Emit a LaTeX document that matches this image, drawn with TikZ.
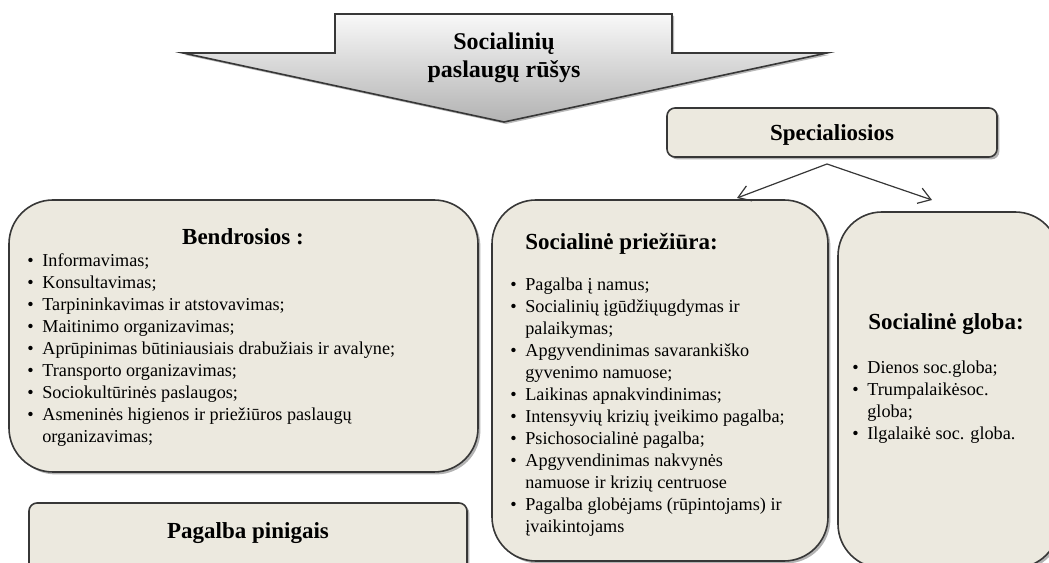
\documentclass[tikz,border=0pt]{standalone}
\usepackage{fontspec}
\setmainfont{Liberation Serif}
\usetikzlibrary{arrows.meta,shadows}
\definecolor{boxfill}{RGB}{236,233,223}
\definecolor{boxline}{RGB}{55,55,55}
\tikzset{
  bigbox/.style={draw=boxline, line width=0.8pt, fill=boxfill, rounded corners=22pt,
    drop shadow={shadow xshift=1.2pt, shadow yshift=-1.2pt, opacity=0.6}, inner sep=0pt},
  smallbox/.style={bigbox, rounded corners=4pt},
  heading/.style={font=\bfseries\fontsize{11.5}{14}\selectfont, inner sep=0pt},
  itemlist/.style={font=\fontsize{9.1}{11}\selectfont, inner sep=0pt, anchor=base west},
  splitarrow/.style={draw=boxline, line width=0.6pt, -{Straight Barb[length=6pt,width=8pt]}}
}
\newenvironment{bullets}{\begin{tabular}[t]{@{}l@{\hspace{4.3pt}}l@{}}}{\end{tabular}}
\begin{document}
\begin{tikzpicture}[x=0.5pt, y=0.5pt]
  \useasboundingbox (0,0) rectangle (1049,562);
  % big arrow at the top
  \draw[boxline, line width=0.8pt, top color=gray!5, bottom color=gray!60,
    drop shadow={shadow xshift=1pt, shadow yshift=-1pt, opacity=0.55}]
    (335,548) -- (672,548) -- (672,509) -- (827,509) -- (504,440)
    -- (183,509) -- (335,509) -- cycle;
  \node[heading, font=\bfseries\fontsize{12}{14}\selectfont, align=center] (rusys) at (504,504) {Socialinių\\paslaugų rūšys};

  % boxes
  \node[smallbox, minimum width=165pt, minimum height=24.5pt] (spec) at (832,429.5) {};
  \node[heading] (spectitle) at (832,427) {Specialiosios};
  \node[bigbox, minimum width=234.5pt, minimum height=136pt] (bendr) at (243.5,226) {};
  \node[bigbox, minimum width=168pt, minimum height=180.5pt] (priez) at (660,181.5) {};
  \node[bigbox, minimum width=110.5pt, minimum height=178pt] (globa) at (948.5,172) {};
  \node[smallbox, minimum width=219pt, minimum height=35pt] (pinig) at (248,24) {};
  \node[heading] (pinigtitle) at (248,29) {Pagalba pinigais};

  % arrows from Specialiosios
  \coordinate (split) at (827,398);
  \coordinate (topriez) at (737,364);
  \coordinate (toglob) at (932,362);
  \draw[splitarrow] (split) -- (topriez);
  \draw[splitarrow] (split) -- (toglob);

  % Bendrosios
  \node[heading] (bendrtitle) at (243,325) {Bendrosios :};
  \node[itemlist] (bendrlist) at (27,295) {\begin{bullets}
    \textbullet & Informavimas;\\
    \textbullet & Konsultavimas;\\
    \textbullet & Tarpininkavimas ir atstovavimas;\\
    \textbullet & Maitinimo organizavimas;\\
    \textbullet & Aprūpinimas būtiniausiais drabužiais ir avalyne;\\
    \textbullet & Transporto organizavimas;\\
    \textbullet & Sociokultūrinės paslaugos;\\
    \textbullet & Asmeninės higienos ir priežiūros paslaugų\\
                & organizavimas;
  \end{bullets}};

  % Socialine prieziura
  \node[heading, anchor=base west] (prieztitle) at (525,312) {Socialinė priežiūra:};
  \node[itemlist] (priezlist) at (510,271) {\begin{bullets}
    \textbullet & Pagalba į namus;\\
    \textbullet & Socialinių įgūdžiųugdymas ir\\
                & palaikymas;\\
    \textbullet & Apgyvendinimas savarankiško\\
                & gyvenimo namuose;\\
    \textbullet & Laikinas apnakvindinimas;\\
    \textbullet & Intensyvių krizių įveikimo pagalba;\\
    \textbullet & Psichosocialinė pagalba;\\
    \textbullet & Apgyvendinimas nakvynės\\
                & namuose ir krizių centruose\\
    \textbullet & Pagalba globėjams (rūpintojams) ir\\
                & įvaikintojams
  \end{bullets}};

  % Socialine globa
  \node[heading, anchor=base west] (globtitle) at (868,232) {Socialinė globa:};
  \node[itemlist] (globlist) at (852,188) {\begin{bullets}
    \textbullet & Dienos soc.globa;\\
    \textbullet & Trumpalaikėsoc.\\
                & globa;\\
    \textbullet & Ilgalaikė soc. globa.
  \end{bullets}};
\end{tikzpicture}
\end{document}
